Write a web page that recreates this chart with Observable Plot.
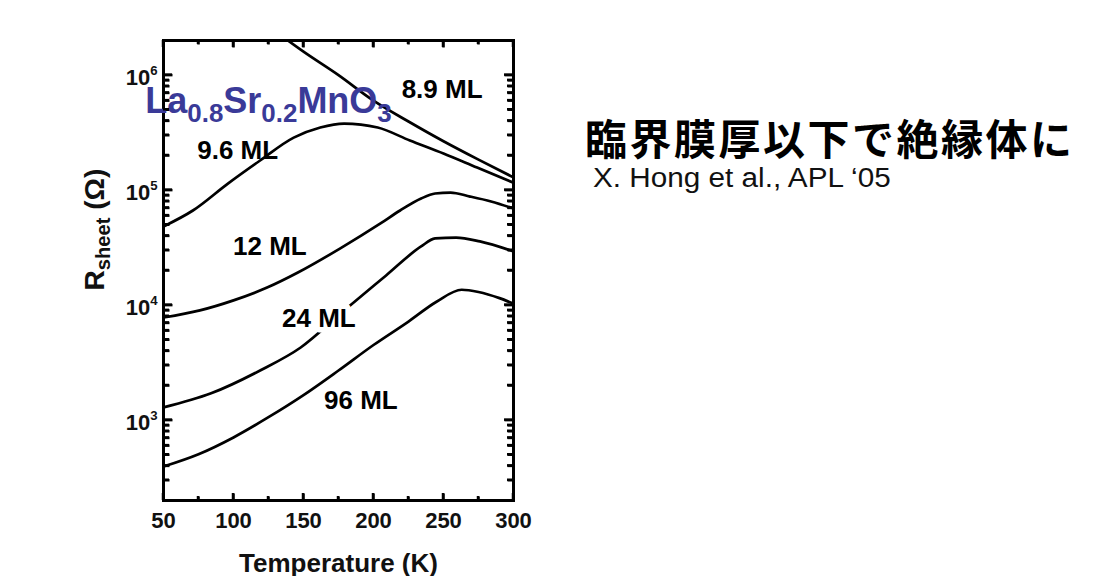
<!DOCTYPE html>
<html><head><meta charset="utf-8">
<script src="https://cdn.jsdelivr.net/npm/d3@7"></script>
<script src="https://cdn.jsdelivr.net/npm/@observablehq/plot@0.6"></script>
<style>
body{margin:0;background:#fff;}
#wrap{position:relative;width:1111px;height:576px;overflow:hidden;background:#fff;}
#chart{position:absolute;left:0;top:0;}
#title{position:absolute;left:585px;top:116px;height:42px;font-family:"Noto Sans CJK JP";font-weight:700;font-size:42px;letter-spacing:2.5px;line-height:1;white-space:nowrap;color:#000;}
#cite{position:absolute;left:593px;top:165px;font-family:"Liberation Sans",Arial,sans-serif;font-size:27px;line-height:1;white-space:nowrap;transform:scaleX(1.1);transform-origin:left top;color:#111;}
g[aria-label="curve-label"] text{letter-spacing:2.5px;}
</style></head>
<body><div id="wrap"><div id="chart"></div><div id="title">臨界膜厚以下で絶縁体に</div><div id="cite">X. Hong et al., APL ‘05</div></div>
<script>
// ---- data ----
const xTicksMajor = [50, 100, 150, 200, 250, 300];
const xTicksMinor = [75, 125, 175, 225, 275];
const yTicksMajor = [1e3, 1e4, 1e5, 1e6];
const yTicksMinor = [300, 400, 500, 600, 700, 800, 900,
  2000, 3000, 4000, 5000, 6000, 7000, 8000, 9000,
  2e4, 3e4, 4e4, 5e4, 6e4, 7e4, 8e4, 9e4,
  2e5, 3e5, 4e5, 5e5, 6e5, 7e5, 8e5, 9e5];

const T_89 = [130, 150, 175, 200, 225, 250, 275, 300];
const R_89 = [2.4e6, 1.6e6, 1.0e6, 6.0e5, 3.95e5, 2.66e5, 1.84e5, 1.29e5];
const T_96 = [50, 71, 96, 119, 143, 162, 179, 203, 226, 250, 274, 300];
const R_96 = [4.83e4, 6.65e4, 1.14e5, 1.81e5, 2.86e5, 3.5e5, 3.79e5, 3.5e5, 2.7e5, 2.08e5, 1.57e5, 1.16e5];
const T_12 = [50, 76, 100, 124, 146, 176, 205, 219, 234, 244, 255, 269, 284, 300];
const R_12 = [7.8e3, 9.0e3, 1.1e4, 1.42e4, 1.92e4, 3.1e4, 5.13e4, 6.65e4, 8.45e4, 9.34e4, 9.52e4, 8.79e4, 7.96e4, 6.92e4];
const T_24 = [50, 84, 119, 148, 179, 209, 234, 244, 259, 276, 300];
const R_24 = [1.29e3, 1.71e3, 2.7e3, 4.28e3, 8.98e3, 1.81e4, 3.24e4, 3.8e4, 3.87e4, 3.58e4, 2.93e4];
const T_960 = [50, 75, 100, 125, 150, 175, 200, 225, 245, 263, 275, 290, 300];
const R_960 = [395, 505, 707, 1060, 1650, 2700, 4500, 7200, 1.07e4, 1.36e4, 1.3e4, 1.15e4, 1.03e4];

const seriesNames = ["8.9 ML", "9.6 ML", "12 ML", "24 ML", "96 ML"];
const seriesT = [T_89, T_96, T_12, T_24, T_960];
const seriesR = [R_89, R_96, R_12, R_24, R_960];

const labelText = ["8.9 ML", "9.6 ML", "12 ML", "24 ML", "96 ML"];
const labelT = [249, 103, 126, 161, 191];
const labelR = [7.5e5, 2.2e5, 3.25e4, 7.6e3, 1.48e3];

const formulaText = ["La_{0.8}Sr_{0.2}MnO_{3}"];
const formulaT = [37];
const formulaR = [5.9e5];

const xLabel = ["Temperature (K)"];
const yLabel = ["R_{sheet} (Ω)"];

const xDomain = [50, 300];
const yDomain = [200, 2e6];

// ---- build tables ----
const rows = seriesNames.flatMap((name, i) => seriesT[i].map((T, j) => ({name, T, R: seriesR[i][j]})));
const labels = labelText.map((text, i) => ({text, T: labelT[i], R: labelR[i]}));
const plainLabels = labels.slice(0, 2);
const haloLabels = labels.slice(2);
const formula = formulaText.map((text, i) => ({text, T: formulaT[i], R: formulaR[i]}));

// frame geometry (pixels) and tick lengths
const W = 560, H = 576, mL = 163, mR = 47, mT = 40, mB = 76;
const fw = W - mL - mR, fh = H - mT - mB;
const pxPerDecade = fh / Math.log10(yDomain[1] / yDomain[0]);
const pxPerK = fw / (xDomain[1] - xDomain[0]);
const majX = 7, minX = 4, majY = 9, minY = 6;
const tickColor = "#000", tickWidth = 2.5;
const ident = d => d;
const upBy = px => yDomain[0] * 10 ** (px / pxPerDecade);
const downBy = px => yDomain[1] / 10 ** (px / pxPerDecade);
const tickOpts = {stroke: tickColor, strokeWidth: tickWidth, ariaLabel: "frame-tick"};
const xTickLinks = (ticks, len) => [
  Plot.link(ticks, {x1: ident, x2: ident, y1: () => yDomain[0], y2: () => upBy(len), ...tickOpts}),
  Plot.link(ticks, {x1: ident, x2: ident, y1: () => yDomain[1], y2: () => downBy(len), ...tickOpts})
];
const yTickLinks = (ticks, len) => [
  Plot.link(ticks, {y1: ident, y2: ident, x1: () => xDomain[0], x2: () => xDomain[0] + len / pxPerK, ...tickOpts}),
  Plot.link(ticks, {y1: ident, y2: ident, x1: () => xDomain[1], x2: () => xDomain[1] - len / pxPerK, ...tickOpts})
];

const bold = "bold";
const chart = Plot.plot({
  width: W, height: H,
  marginLeft: mL, marginRight: mR, marginTop: mT, marginBottom: mB,
  style: {fontFamily: "Liberation Sans, Arial, sans-serif", background: "transparent", color: "#111"},
  x: {domain: xDomain},
  y: {type: "log", domain: yDomain, label: null},
  marks: [
    Plot.line(rows, {x: "T", y: "R", z: "name", curve: "monotone-x", stroke: "#000", strokeWidth: 2.7, clip: true}),
    // inward ticks on all four sides
    ...xTickLinks(xTicksMajor, majX),
    ...xTickLinks(xTicksMinor, minX),
    ...yTickLinks(yTicksMajor, majY),
    ...yTickLinks(yTicksMinor, minY),
    // tick labels
    Plot.axisX(xTicksMajor, {anchor: "bottom", tickSize: 0, tickPadding: 12, fontSize: 22, fontWeight: bold, fill: "#111", label: null}),
    Plot.axisY(yTicksMajor, {anchor: "left", tickSize: 0, tickPadding: 6, dy: 3, fontSize: 22, fontWeight: bold, fill: "#111",
      tickFormat: d => "10^{" + Math.round(Math.log10(d)) + "}", label: null}),
    Plot.frame({stroke: "#000", strokeWidth: 3}),
    Plot.text(plainLabels, {x: "T", y: "R", text: "text", fontSize: 26, fontWeight: bold, fill: "#000", ariaLabel: "curve-label"}),
    Plot.text(haloLabels, {x: "T", y: "R", text: "text", fontSize: 26, fontWeight: bold, fill: "#000", stroke: "#fff", strokeWidth: 11, paintOrder: "stroke", ariaLabel: "curve-label"}),
    Plot.text(formula, {x: "T", y: "R", text: "text", textAnchor: "start", fontSize: 36, fontWeight: bold, fill: "#3a3a98"}),
    Plot.text(xLabel, {frameAnchor: "bottom", lineAnchor: "bottom", dy: 71, fontSize: 26, fontWeight: bold, fill: "#111"}),
    Plot.text(yLabel, {frameAnchor: "left", lineAnchor: "bottom", rotate: -90, dx: -60, dy: 20, fontSize: 28, fontWeight: bold, fill: "#111"})
  ]
});
document.getElementById("chart").appendChild(chart);

// fallback: if the tick marks produced nothing, draw them with Plot's own scales
if (chart.querySelectorAll('g[aria-label="frame-tick"] path').length === 0) {
  const sx = chart.scale("x"), sy = chart.scale("y");
  const g = d3.select(chart).append("g").attr("stroke", tickColor).attr("stroke-width", tickWidth);
  const X0 = sx.apply(xDomain[0]), X1 = sx.apply(xDomain[1]), Y0 = sy.apply(yDomain[0]), Y1 = sy.apply(yDomain[1]);
  [[xTicksMajor, majX], [xTicksMinor, minX]].forEach(([ticks, len]) => ticks.forEach(t => {
    const x = sx.apply(t);
    g.append("line").attr("x1", x).attr("x2", x).attr("y1", Y0).attr("y2", Y0 - len);
    g.append("line").attr("x1", x).attr("x2", x).attr("y1", Y1).attr("y2", Y1 + len);
  }));
  [[yTicksMajor, majY], [yTicksMinor, minY]].forEach(([ticks, len]) => ticks.forEach(t => {
    const y = sy.apply(t);
    g.append("line").attr("y1", y).attr("y2", y).attr("x1", X0).attr("x2", X0 + len);
    g.append("line").attr("y1", y).attr("y2", y).attr("x1", X1).attr("x2", X1 - len);
  }));
}

// turn _{..} and ^{..} into sub/superscript tspans
function richify(svg) {
  const NS = "http://www.w3.org/2000/svg";
  svg.querySelectorAll("text").forEach(t => {
    const s = t.textContent;
    if (!/[_^]\{/.test(s)) return;
    const f = parseFloat(getComputedStyle(t).fontSize);
    t.textContent = "";
    const re = /([_^])\{([^}]*)\}|([^_^]+)/g;
    let m, shift = 0;
    while ((m = re.exec(s))) {
      const ts = document.createElementNS(NS, "tspan");
      let target = 0;
      if (m[3]) ts.textContent = m[3];
      else {
        ts.textContent = m[2];
        ts.setAttribute("font-size", (m[1] === "_" ? 0.72 : 0.6) * f);
        target = m[1] === "_" ? 0.24 * f : -0.45 * f;
      }
      ts.setAttribute("dy", target - shift);
      shift = target;
      t.appendChild(ts);
    }
  });
}
richify(chart);
</script>
</body></html>
